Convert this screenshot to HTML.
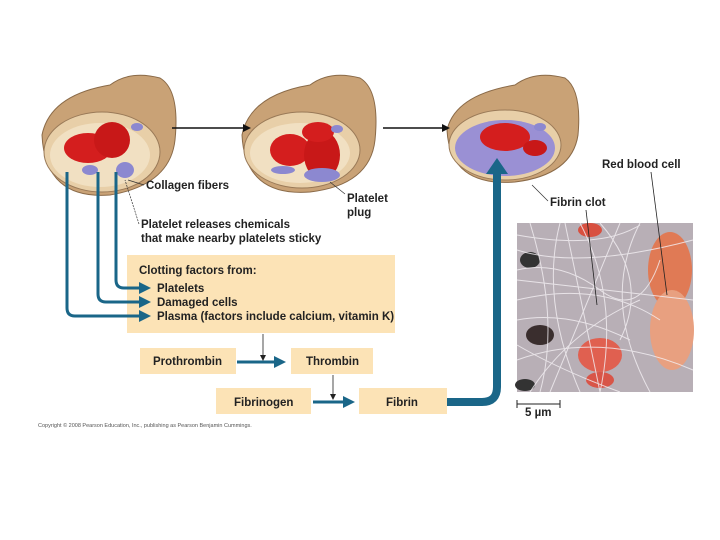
<!DOCTYPE html>
<html><head><meta charset="utf-8"><style>
body{margin:0;background:#fff;width:720px;height:540px;overflow:hidden}
svg{display:block}
text{font-family:"Liberation Sans",sans-serif;font-weight:bold;font-size:11.5px;fill:#222}
</style></head><body>
<svg width="720" height="540" viewBox="0 0 720 540">
<defs>
<marker id="ah" markerWidth="8" markerHeight="8" refX="6" refY="4" orient="auto" markerUnits="userSpaceOnUse"><path d="M0,0 L8,4 L0,8 z" fill="#111"/></marker>
<marker id="th" markerWidth="12" markerHeight="12" refX="9" refY="6" orient="auto" markerUnits="userSpaceOnUse"><path d="M0,0 L12,6 L0,12 z" fill="#1a6688"/></marker>
<marker id="sa" markerWidth="6" markerHeight="6" refX="5" refY="3" orient="auto" markerUnits="userSpaceOnUse"><path d="M0,0 L6,3 L0,6 z" fill="#222"/></marker>
</defs>
<g>
<path d="M42,135 Q50,95 110,85 Q130,70 160,78 Q180,90 175,140 Q170,185 110,195 Q45,200 42,135z" fill="#c9a276" stroke="#8a6a48"/>
<ellipse cx="102" cy="152" rx="58" ry="40" fill="#e8cfa8" stroke="#9a7a58"/>
<ellipse cx="100" cy="155" rx="50" ry="32" fill="#f1e0c2"/>
<ellipse cx="88" cy="148" rx="24" ry="15" fill="#d41e1e"/>
<ellipse cx="112" cy="140" rx="18" ry="18" fill="#c81818"/>
<ellipse cx="125" cy="170" rx="9" ry="8" fill="#8c88d0"/>
<ellipse cx="90" cy="170" rx="8" ry="5" fill="#8c88d0"/>
<ellipse cx="137" cy="127" rx="6" ry="4" fill="#8c88d0"/>
</g>
<g>
<path d="M242,135 Q250,95 310,85 Q330,70 360,78 Q380,90 375,140 Q370,185 310,192 Q245,197 242,135z" fill="#c9a276" stroke="#8a6a48"/>
<ellipse cx="302" cy="150" rx="58" ry="38" fill="#e8cfa8" stroke="#9a7a58"/>
<ellipse cx="300" cy="153" rx="50" ry="30" fill="#f1e0c2"/>
<ellipse cx="290" cy="150" rx="20" ry="16" fill="#d41e1e"/>
<ellipse cx="322" cy="155" rx="18" ry="24" fill="#c81818"/>
<ellipse cx="318" cy="132" rx="16" ry="10" fill="#d41e1e"/>
<ellipse cx="322" cy="175" rx="18" ry="7" fill="#8c88d0"/>
<ellipse cx="283" cy="170" rx="12" ry="4" fill="#8c88d0"/>
<ellipse cx="337" cy="129" rx="6" ry="4" fill="#8c88d0"/>
</g>
<g>
<path d="M447,130 Q455,95 515,85 Q535,70 565,78 Q582,90 578,135 Q572,175 515,182 Q450,187 447,130z" fill="#c9a276" stroke="#8a6a48"/>
<ellipse cx="505" cy="145" rx="56" ry="35" fill="#e8cfa8" stroke="#9a7a58"/>
<ellipse cx="505" cy="148" rx="50" ry="28" fill="#9a90d4"/>
<ellipse cx="505" cy="137" rx="25" ry="14" fill="#d41e1e"/>
<ellipse cx="535" cy="148" rx="12" ry="8" fill="#c81818"/>
<ellipse cx="540" cy="127" rx="6" ry="4" fill="#8c88d0"/>
</g>
<line x1="172" y1="128" x2="249" y2="128" stroke="#111" stroke-width="1.5" marker-end="url(#ah)"/>
<line x1="383" y1="128" x2="448" y2="128" stroke="#111" stroke-width="1.5" marker-end="url(#ah)"/>
<text x="146" y="189">Collagen fibers</text>
<line x1="144" y1="185" x2="128" y2="180" stroke="#333" stroke-width="0.7"/>
<text x="347" y="202">Platelet</text><text x="347" y="216">plug</text>
<line x1="345" y1="194" x2="330" y2="182" stroke="#333" stroke-width="0.7"/>
<text x="141" y="228">Platelet releases chemicals</text>
<text x="141" y="242">that make nearby platelets sticky</text>
<line x1="139" y1="224" x2="125" y2="180" stroke="#333" stroke-width="0.7" stroke-dasharray="2,1"/>
<text x="602" y="168">Red blood cell</text>
<text x="550" y="206">Fibrin clot</text>
<line x1="548" y1="201" x2="532" y2="185" stroke="#333" stroke-width="0.7"/>
<rect x="127" y="255" width="268" height="78" fill="#fce3b6"/>
<text x="139" y="274">Clotting factors from:</text>
<text x="157" y="292">Platelets</text>
<text x="157" y="306">Damaged cells</text>
<text x="157" y="320">Plasma (factors include calcium, vitamin K)</text>
<g fill="none" stroke="#1a6688" stroke-width="3">
<path d="M116,172 V280 Q116,288 124,288 H148" marker-end="url(#th)"/>
<path d="M98,172 V294 Q98,302 106,302 H148" marker-end="url(#th)"/>
<path d="M67,172 V308 Q67,316 75,316 H148" marker-end="url(#th)"/>
</g>
<rect x="140" y="348" width="96" height="26" fill="#fce3b6"/>
<text x="153" y="365">Prothrombin</text>
<rect x="291" y="348" width="82" height="26" fill="#fce3b6"/>
<text x="306" y="365">Thrombin</text>
<rect x="216" y="388" width="95" height="26" fill="#fce3b6"/>
<text x="234" y="406">Fibrinogen</text>
<rect x="359" y="388" width="88" height="26" fill="#fce3b6"/>
<text x="386" y="406">Fibrin</text>
<line x1="237" y1="362" x2="283" y2="362" stroke="#1a6688" stroke-width="3" marker-end="url(#th)"/>
<line x1="313" y1="402" x2="352" y2="402" stroke="#1a6688" stroke-width="3" marker-end="url(#th)"/>
<line x1="263" y1="334" x2="263" y2="360" stroke="#222" stroke-width="0.8" marker-end="url(#sa)"/>
<line x1="333" y1="375" x2="333" y2="399" stroke="#222" stroke-width="0.8" marker-end="url(#sa)"/>
<path d="M447,402 H482 Q497,402 497,387 V172" fill="none" stroke="#1a6688" stroke-width="8"/>
<path d="M486,174 L497,158 L508,174z" fill="#1a6688"/>
<rect x="517" y="223" width="176" height="169" fill="#b8afb6"/>
<ellipse cx="530" cy="260" rx="10" ry="8" fill="#333"/>
<ellipse cx="540" cy="335" rx="14" ry="10" fill="#3a2e2e"/>
<ellipse cx="525" cy="385" rx="10" ry="6" fill="#333"/>
<ellipse cx="670" cy="270" rx="22" ry="38" fill="#e07a55"/>
<ellipse cx="672" cy="330" rx="22" ry="40" fill="#e8a080"/>
<ellipse cx="600" cy="355" rx="22" ry="17" fill="#e06050"/>
<ellipse cx="600" cy="380" rx="14" ry="8" fill="#d85548"/>
<ellipse cx="590" cy="230" rx="12" ry="7" fill="#d85040"/>
<g stroke="#f4f0f4" stroke-width="1" opacity="0.8" fill="none">
<path d="M517,250 Q580,270 693,240"/><path d="M517,300 Q600,280 660,320"/><path d="M530,223 Q560,320 540,392"/><path d="M580,223 Q620,300 600,392"/><path d="M517,360 Q600,330 693,370"/><path d="M640,223 Q600,300 650,392"/><path d="M517,280 L693,300"/><path d="M550,392 L620,223"/>
<path d="M517,235 Q600,250 640,225"/><path d="M517,320 Q570,310 630,340"/><path d="M560,223 Q540,300 580,392"/><path d="M517,345 Q560,370 620,392"/><path d="M600,223 Q650,280 620,340"/><path d="M517,270 Q560,260 600,290 T660,260"/><path d="M530,392 Q570,330 640,300"/><path d="M565,223 L600,392"/>
</g>
<line x1="651" y1="172" x2="667" y2="295" stroke="#222" stroke-width="0.8"/>
<line x1="586" y1="210" x2="597" y2="305" stroke="#222" stroke-width="0.8"/>
<line x1="517" y1="404" x2="560" y2="404" stroke="#222" stroke-width="1"/>
<line x1="517" y1="400" x2="517" y2="408" stroke="#222"/><line x1="560" y1="400" x2="560" y2="408" stroke="#222"/>
<text x="525" y="416">5 µm</text>
<text x="38" y="427" style="font-size:5.5px;font-weight:normal;fill:#555">Copyright © 2008 Pearson Education, Inc., publishing as Pearson Benjamin Cummings.</text>
</svg>
</body></html>
